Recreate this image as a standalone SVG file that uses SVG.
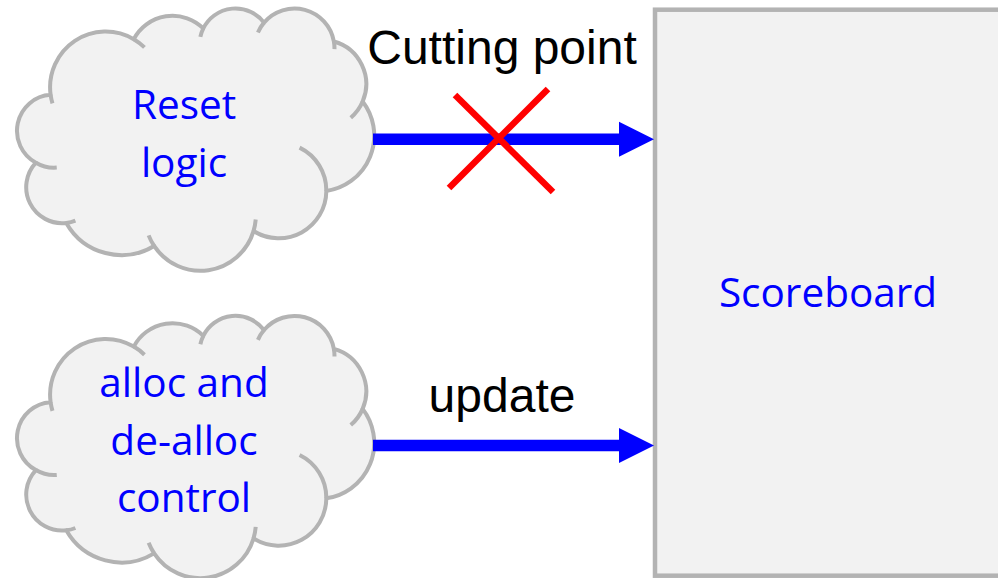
<svg xmlns="http://www.w3.org/2000/svg" xmlns:xlink="http://www.w3.org/1999/xlink" width="998" height="578" viewBox="0 0 998 578">
  <style>
    .cloud { fill: #f2f2f2; stroke: #b3b3b3; stroke-width: 4; vector-effect: non-scaling-stroke; stroke-linejoin: round; }
    .cloud-ticks { fill: none; stroke: #b3b3b3; stroke-width: 4; vector-effect: non-scaling-stroke; }
    .block { fill: #f2f2f2; stroke: #b3b3b3; stroke-width: 4.5; }
    .node-label { font-family: "Open Sans", "Noto Sans", sans-serif; font-size: 40.5px; fill: #0000ff; text-anchor: middle; }
    .edge-label { font-family: "Liberation Sans", Arial, sans-serif; font-size: 48px; fill: #000000; text-anchor: middle; }
    .wire { stroke: #0000ff; stroke-width: 11.5; fill: none; }
    .cut { stroke: #ff0000; stroke-width: 6.5; fill: none; }
  </style>
  <defs>
    <!-- cloud outline in a 43200 x 43200 unit box -->
    <path id="cloud-outline" class="cloud" d="M 3900 14370 A 6753 9190 0 0 1 14005 5202 A 5333 7267 0 0 1 22456 3433 A 4365 5945 0 0 1 29833 2481 A 4857 6595 0 0 1 38318 5577 A 5333 7273 0 0 1 41818 15460 A 6775 9220 0 0 1 37404 30204 A 5785 7867 0 0 1 28556 36814 A 6752 9215 0 0 1 16481 39265 A 7720 10543 0 0 1 5805 35471 A 4360 5918 0 0 1 2114 25549 A 4345 5945 0 0 1 3900 14370 Z"/>
    <!-- inner lobe strokes of the cloud -->
    <path id="cloud-inner" class="cloud-ticks" d="M 4647 26346 A 4345 5945 0 0 1 2114 25549 M 6913 35089 A 4360 5918 0 0 1 5805 35471 M 16481 39265 A 6752 9215 0 0 1 15813 37525 M 28823 34904 A 6752 9215 0 0 1 28556 36814 M 34153 23068 A 5785 7867 0 0 1 37404 30204 M 41818 15460 A 5333 7273 0 0 1 40371 18136 M 38318 5577 A 4857 6595 0 0 1 38395 6840 M 29091 4093 A 4857 6595 0 0 1 29833 2481 M 22097 4822 A 4365 5945 0 0 1 22456 3433 M 14005 5202 A 6753 9190 0 0 1 15305 6550 M 4127 15789 A 6753 9190 0 0 1 3900 14370"/>
    <marker id="arrowhead" markerUnits="userSpaceOnUse" markerWidth="36" markerHeight="36" refX="0" refY="17.5" orient="auto" overflow="visible">
      <path d="M 0 0 L 35 17.5 L 0 35 Z" fill="#0000ff"/>
    </marker>
  </defs>

  <!-- Scoreboard block (extends past the right edge) -->
  <g id="scoreboard">
    <rect class="block" x="655" y="9.7" width="400" height="566"/>
    <text class="node-label" x="828" y="307">Scoreboard</text>
  </g>

  <!-- Reset logic cloud -->
  <g id="reset-logic">
    <g transform="translate(18.5 7.6) scale(0.00823 0.00607)">
      <use xlink:href="#cloud-outline"/>
      <use xlink:href="#cloud-inner"/>
    </g>
    <text class="node-label" x="184" y="119">Reset</text>
    <text class="node-label" x="184" y="176.5">logic</text>
  </g>

  <!-- alloc / de-alloc control cloud -->
  <g id="alloc-control">
    <g transform="translate(18.5 315) scale(0.00823 0.00607)">
      <use xlink:href="#cloud-outline"/>
      <use xlink:href="#cloud-inner"/>
    </g>
    <text class="node-label" x="184" y="397">alloc and</text>
    <text class="node-label" x="184" y="454.5">de-alloc</text>
    <text class="node-label" x="184" y="512">control</text>
  </g>

  <!-- connectors -->
  <g id="connectors">
    <line class="wire" x1="373" y1="139.2" x2="619" y2="139.2" marker-end="url(#arrowhead)"/>
    <line class="wire" x1="373" y1="445.5" x2="619" y2="445.5" marker-end="url(#arrowhead)"/>
    <text class="edge-label" x="502" y="64">Cutting point</text>
    <text class="edge-label" x="502" y="412">update</text>
    <!-- cut mark on the reset wire -->
    <line class="cut" x1="455" y1="95" x2="553" y2="192"/>
    <line class="cut" x1="548" y1="89" x2="449" y2="188"/>
  </g>
</svg>
